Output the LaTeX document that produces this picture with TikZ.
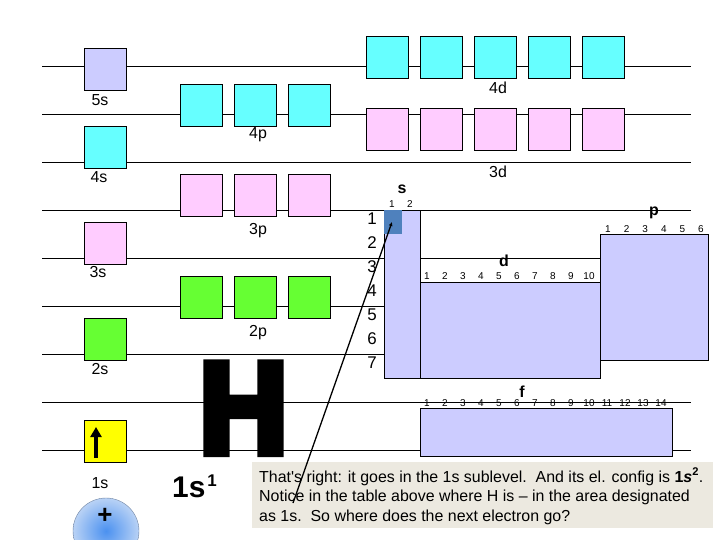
\documentclass[tikz,border=0pt]{standalone}
\usepackage{fontspec}
\usepackage{graphicx}
\setmainfont{Liberation Sans}[Ligatures=TeXOff]
\newfontfamily\heavyfont{Liberation Sans}[BoldFeatures={FakeBold=7}]
\usetikzlibrary{arrows.meta}
\definecolor{lav}{RGB}{204,204,255}
\definecolor{aqua}{RGB}{102,255,255}
\definecolor{rose}{RGB}{255,204,255}
\definecolor{lime}{RGB}{102,255,51}
\definecolor{yel}{RGB}{255,255,0}
\definecolor{hcell}{RGB}{79,129,189}
\definecolor{notebg}{RGB}{236,233,224}
\begin{document}
\begin{tikzpicture}[x=1bp,y=-1bp,
  orb/.style={draw=black,line width=0.8bp},
  blk/.style={fill=lav,draw=black,line width=0.8bp},
  lbl/.style={font=\fontsize{16}{16}\selectfont},
  rownum/.style={font=\fontsize{17}{17}\selectfont},
  colnum/.style={font=\fontsize{10}{10}\selectfont,inner sep=0},
  blklbl/.style={font=\bfseries\fontsize{16}{16}\selectfont},
  notetxt/.style={anchor=base west,inner sep=0,font=\fontsize{16}{16}\selectfont}]
\useasboundingbox (0,0) rectangle (720,540);
% energy levels
\foreach \y in {66,114,...,450}
  \draw[line width=0.8bp] (42,\y) -- (691,\y);
% s orbitals
\foreach \y/\c in {48/lav,126/aqua,222/rose,318/lime,420/yel}
  \draw[orb,fill=\c] (84,\y) rectangle ++(42,42);
% p orbitals
\foreach \y/\c in {84/aqua,174/rose,276/lime}
  \foreach \x in {180,234,288}
    \draw[orb,fill=\c] (\x,\y) rectangle ++(42,42);
% d orbitals
\foreach \y/\c in {36/aqua,108/rose}
  \foreach \x in {366,420,...,582}
    \draw[orb,fill=\c] (\x,\y) rectangle ++(42,42);
% electron
\draw[line width=4bp,-{Triangle[length=10bp,width=11bp]}] (96,458) -- (96,427);
\node[lbl] (l5s) at (100,100) {5s};
\node[lbl] (l4s) at (99,177) {4s};
\node[lbl] (l3s) at (98,272) {3s};
\node[lbl] (l2s) at (100,369) {2s};
\node[lbl] (l1s) at (100,483) {1s};
\node[lbl] (l4p) at (258,135) {4p};
\node[lbl] (l3p) at (258,231) {3p};
\node[lbl] (l2p) at (258,333) {2p};
\node[lbl] (l4d) at (498,88) {4d};
\node[lbl] (l3d) at (498,172) {3d};
% element and configuration
\node[anchor=base,inner sep=0] (hsym) at (243.5,452.5)
  {\scalebox{0.86}[0.91]{\heavyfont\bfseries\fontsize{142}{142}\selectfont H}};
\node[anchor=base west,inner sep=0,font=\bfseries\fontsize{30}{30}\selectfont] (cfg) at (172,497)
  {1s\kern2bp\raisebox{11bp}{\fontsize{17}{17}\selectfont 1}};
\node[circle,minimum size=66bp,draw={rgb,255:red,110;green,130;blue,160},
  inner color={rgb,255:red,75;green,145;blue,240},
  outer color={rgb,255:red,185;green,210;blue,245}] (nuc) at (106,531) {};
\node[font=\bfseries\fontsize{26}{26}\selectfont,inner sep=0] (plus) at (105,516) {+};
% periodic table
\draw[blk] (384,210) rectangle (420,378);
\fill[hcell] (384,210) rectangle (402,234);
\draw[blk] (420,282) rectangle (600,378);
\draw[blk] (600,234) rectangle (708,360);
\draw[blk] (420,408) rectangle (672,456);
\foreach \n in {1,...,7}
  \node[rownum] (row\n) at (372,{195+24*\n}) {\n};
\foreach \n in {1,2}
  \node[colnum] (s\n) at ({374+18*\n},204) {\n};
\foreach \n in {1,...,10}
  \node[colnum] (d\n) at ({409+18*\n},276) {\n};
\foreach \n in {1,...,6}
  \node[colnum] (p\n) at ({589.4+18.6*\n},229) {\n};
\foreach \n in {1,...,14}
  \node[colnum] (f\n) at ({409+18*\n},403) {\n};
\node[blklbl] (sblk) at (402,189) {s};
\node[blklbl] (dblk) at (504,261) {d};
\node[blklbl] (pblk) at (654,213) {p};
\node[blklbl] (fblk) at (522,392) {f};
% note
\node[fill=notebg,anchor=north west,inner sep=0,minimum width=461bp,minimum height=66bp] (note) at (252,462) {};
\node[notetxt] (note1) at (259,482) {That's right: it goes in the 1s sublevel.\ \ And its el. config is \textbf{1\textit{s}\textsuperscript{2}}.};
\node[notetxt] (note2) at (259,501.5) {Notice in the table above where H is – in the area designated};
\node[notetxt] (note3) at (259,521) {as 1s.\ \ So where does the next electron go?};
\coordinate (tail) at (293,503);
\coordinate (tip) at (392,222);
\draw[line width=1.3bp,-{Latex[length=4bp,width=4bp]}] (tail) -- (tip);
\end{tikzpicture}
\end{document}
